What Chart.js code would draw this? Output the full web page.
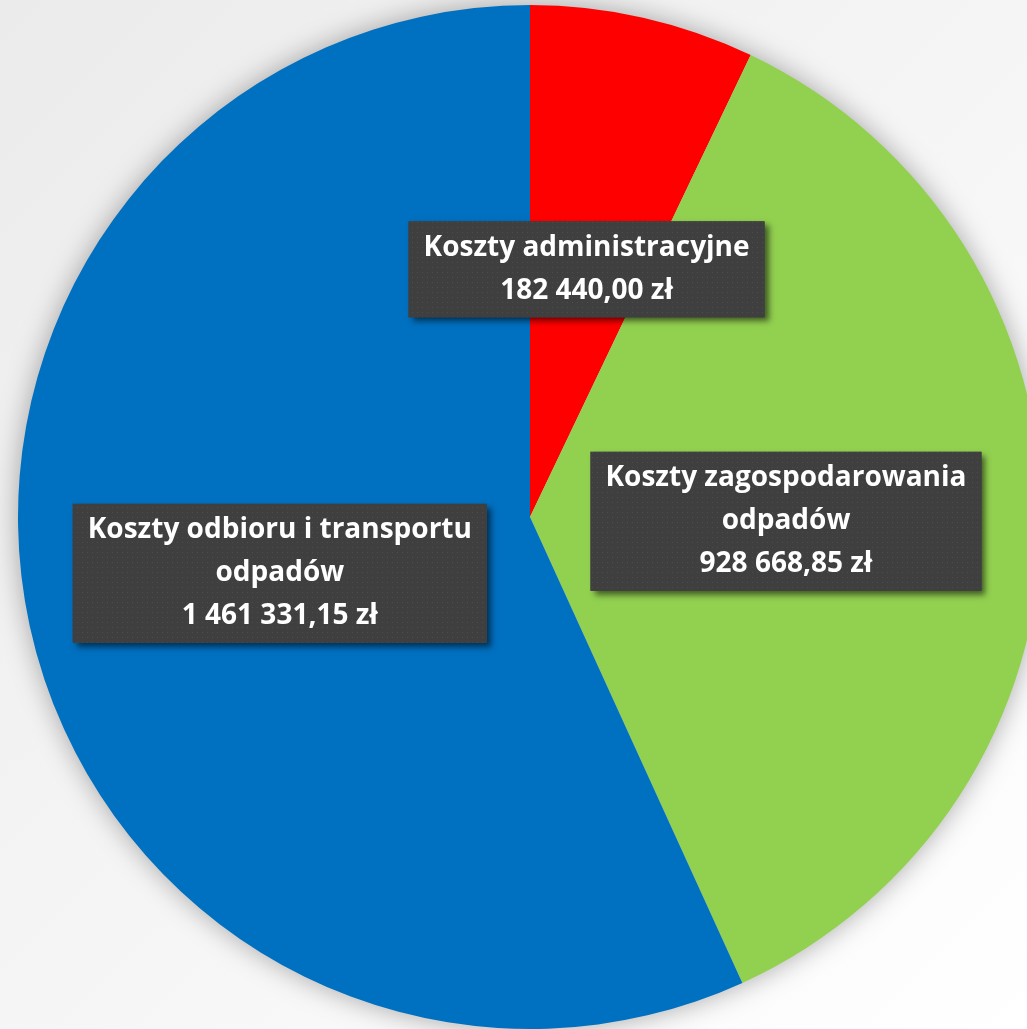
<!DOCTYPE html>
<html>
<head>
<meta charset="utf-8">
<script src="https://cdn.jsdelivr.net/npm/chart.js@4/dist/chart.umd.min.js"></script>
<style>
  html, body { margin: 0; padding: 0; width: 1027px; height: 1029px; overflow: hidden; }
  body { background: linear-gradient(135deg, #ebebeb 0%, #f4f4f4 45%, #ffffff 100%); position: relative; }
  #wrap { position: absolute; left: 0; top: 0; width: 1060px; height: 1040px; }
</style>
</head>
<body>
<div id="wrap"><canvas id="grafico1"></canvas></div>
<script>
// dane wykresu
const categories = [
  ['Koszty administracyjne'],
  ['Koszty zagospodarowania', 'odpadów'],
  ['Koszty odbioru i transportu', 'odpadów']
];
const values = [182440.00, 928668.85, 1461331.15];
const colors = ['#FF0000', '#92D050', '#0070C0'];

// format 1 461 331,15 zł
function formatZl(v) {
  const parts = v.toFixed(2).split('.');
  const int = parts[0].replace(/\B(?=(\d{3})+(?!\d))/g, ' ');
  return int + ',' + parts[1] + ' zł';
}

// wzorek w kropki na tło etykiet
function makePattern(ctx) {
  const p = document.createElement('canvas');
  p.width = 5; p.height = 5;
  const pc = p.getContext('2d');
  pc.fillStyle = '#3f3f3f';
  pc.fillRect(0, 0, 5, 5);
  pc.fillStyle = '#4d4d4d';
  pc.fillRect(2, 2, 1, 1);
  return ctx.createPattern(p, 'repeat');
}

// cień pod całym kołem
const pieShadow = {
  id: 'pieShadow',
  beforeDatasetsDraw(chart) {
    const arc = chart.getDatasetMeta(0).data[0];
    if (!arc) return;
    const ctx = chart.ctx;
    ctx.save();
    ctx.shadowColor = 'rgba(0,0,0,0.35)';
    ctx.shadowBlur = 28;
    ctx.fillStyle = '#cccccc';
    ctx.beginPath();
    ctx.arc(arc.x, arc.y, arc.outerRadius - 1, 0, Math.PI * 2);
    ctx.fill();
    ctx.restore();
  }
};

// etykiety w ciemnych ramkach
const boxLabels = {
  id: 'boxLabels',
  afterDatasetsDraw(chart) {
    const ctx = chart.ctx;
    const meta = chart.getDatasetMeta(0);
    const pattern = makePattern(ctx);
    const fontSize = 28;
    const lineH = 43;
    const padY = 5;
    ctx.save();
    ctx.font = 'bold ' + fontSize + 'px "Open Sans", sans-serif';
    meta.data.forEach((arc, i) => {
      const lines = categories[i].concat([formatZl(values[i])]);
      const pos = arc.getCenterPoint();
      let w = 0;
      lines.forEach(l => { w = Math.max(w, ctx.measureText(l).width); });
      const bw = w + 30;
      const bh = lines.length * lineH + padY * 2;
      const bx = pos.x - bw / 2;
      const by = pos.y + 2 - bh / 2;
      ctx.save();
      ctx.shadowColor = 'rgba(0,0,0,0.55)';
      ctx.shadowBlur = 6;
      ctx.shadowOffsetX = 4;
      ctx.shadowOffsetY = 4;
      ctx.fillStyle = '#404040';
      ctx.fillRect(bx, by, bw, bh);
      ctx.restore();
      ctx.fillStyle = pattern;
      ctx.fillRect(bx, by, bw, bh);
      ctx.fillStyle = '#ffffff';
      ctx.textAlign = 'center';
      ctx.textBaseline = 'middle';
      lines.forEach((l, j) => {
        ctx.fillText(l, pos.x, by + padY + lineH * (j + 0.5));
      });
    });
    ctx.restore();
  }
};

const ctx = document.getElementById('grafico1').getContext('2d');
const chart = new Chart(ctx, {
  type: 'pie',
  data: {
    labels: categories.map(c => c.join(' ')),
    datasets: [{
      data: values,
      backgroundColor: colors,
      borderWidth: 0
    }]
  },
  options: {
    responsive: true,
    maintainAspectRatio: false,
    animation: false,
    devicePixelRatio: 1,
    layout: { padding: { left: 18, top: 5, right: 18, bottom: 11 } },
    plugins: {
      legend: { display: false },
      tooltip: { enabled: false }
    }
  },
  plugins: [pieShadow, boxLabels]
});
</script>
</body>
</html>
